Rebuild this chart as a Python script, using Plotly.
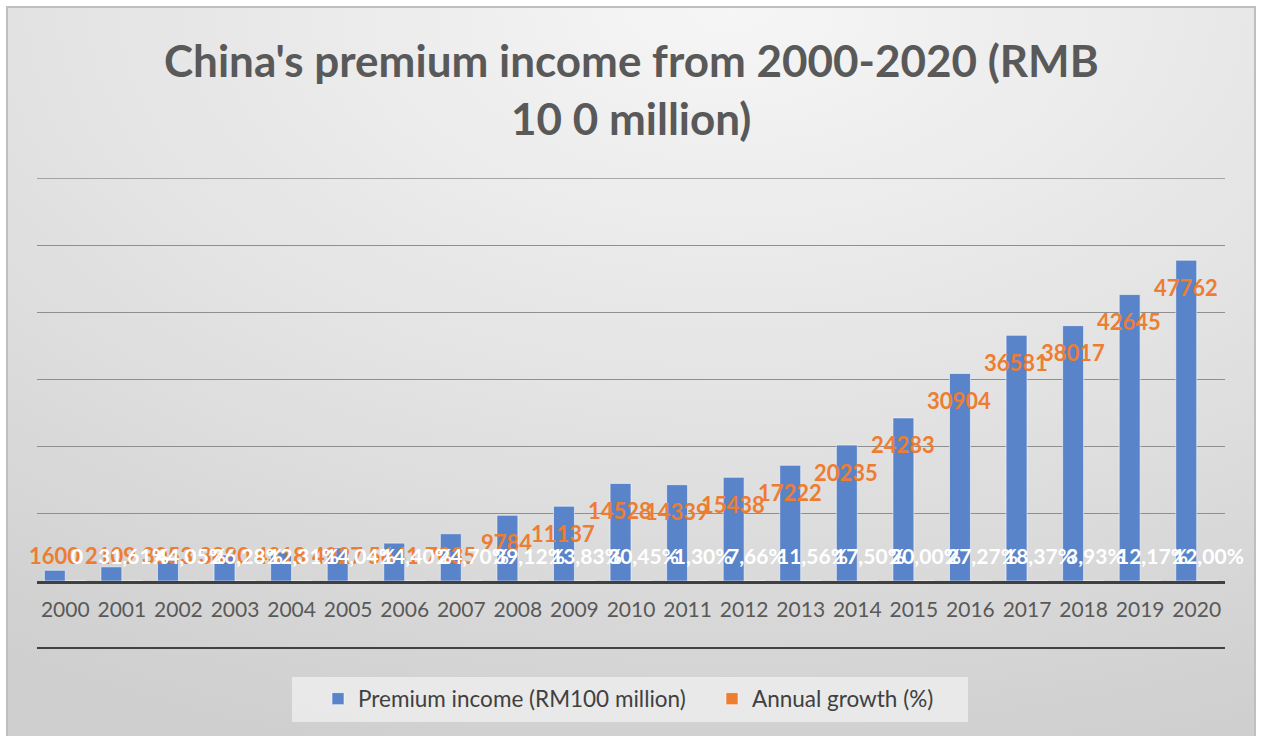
import base64
import plotly.graph_objects as go

# Premium income (RMB 100 million) and year-on-year growth (%)
years = [str(y) for y in range(2000, 2021)]
premium = [1600, 2109, 3053, 3880, 4318, 4927, 5641, 7035, 9784, 11137, 14528,
           14339, 15438, 17222, 20235, 24283, 30904, 36581, 38017, 42645, 47762]
growth = [0, 31.61, 44.05, 26.28, 12.31, 14.04, 14.40, 24.70, 39.12, 13.83, 30.45,
          -1.30, 7.66, 11.56, 17.50, 20.00, 27.27, 18.37, 3.93, 12.17, 12.00]
y_ticks = [0, 10000, 20000, 30000, 40000, 50000, 60000]

BLUE = "#5a84c9"
ORANGE = "#ED7D31"
FONT = "Lato"
GRID = "#8f8f8f"

# plot area in pixels
L, R, T, B = 37, 1225, 178, 581
W, H = 1262, 736
pw, ph = R - L, B - T


def px_x(x):
    return (x - L) / pw


def px_y(y):
    return (B - y) / ph


def growth_text(g):
    return "0" if g == 0 else f"{g:.2f}%".replace(".", ",")


fig = go.Figure()
fig.add_trace(go.Bar(
    x=years, y=premium, name="Premium income (RM100 million)", legend="legend",
    marker=dict(color=BLUE, line=dict(color="rgba(255,255,255,0.55)", width=1)),
))
fig.add_trace(go.Bar(
    x=years, y=[g / 100 for g in growth], name="Annual growth (%)", legend="legend2",
    marker=dict(color=ORANGE, line=dict(color="rgba(255,255,255,0.55)", width=1)),
))

annotations = []
# premium values: just inside the top of each bar, never below the label row
label_floor = 3870
for i, v in enumerate(premium):
    annotations.append(dict(
        x=i, y=max(v - 4020, label_floor), xref="x", yref="y", xshift=-11,
        text=str(v), showarrow=False, yanchor="middle",
        font=dict(family=FONT, size=22, color=ORANGE, weight="bold"),
    ))
# growth labels sit above the (near-zero) growth bars
for i, g in enumerate(growth):
    annotations.append(dict(
        x=i, y=label_floor, xref="x", yref="y", xshift=12,
        text=growth_text(g), showarrow=False, yanchor="middle",
        font=dict(family=FONT, size=21, color="white", weight="bold"),
    ))

# two-line title
for text, ypx in [("China's premium income from 2000-2020 (RMB", 60), ("10 0 million)", 118)]:
    annotations.append(dict(
        x=0.5, xref="paper", y=px_y(ypx), yref="paper", yanchor="middle",
        text=text, showarrow=False,
        font=dict(family=FONT, size=44, color="#595959", weight="bold"),
    ))

# soft radial background
svg = (
    "<svg xmlns='http://www.w3.org/2000/svg' width='1248' height='735' viewBox='0 0 1248 735' preserveAspectRatio='none'>"
    "<defs><radialGradient id='g' cx='0.58' cy='0.0' r='1.05' gradientUnits='objectBoundingBox'>"
    "<stop offset='0' stop-color='#f6f6f6'/><stop offset='0.55' stop-color='#e2e2e2'/>"
    "<stop offset='1' stop-color='#cfcfcf'/></radialGradient></defs>"
    "<rect x='0' y='0' width='1248' height='735' fill='url(#g)'/></svg>"
)
bg_src = "data:image/svg+xml;base64," + base64.b64encode(svg.encode()).decode()

shapes = [
    # chart frame
    dict(type="rect", xref="paper", yref="paper",
         x0=px_x(7), x1=px_x(1255), y0=px_y(745), y1=px_y(7),
         line=dict(color="#bfbfbf", width=2), fillcolor="rgba(0,0,0,0)", layer="above"),
    # top gridline (sits on the plot edge)
    dict(type="line", xref="paper", yref="y", x0=0, x1=1,
         y0=y_ticks[-1], y1=y_ticks[-1], line=dict(color=GRID, width=1.3), layer="below"),
    # line under category labels
    dict(type="line", xref="paper", yref="paper", x0=0, x1=1,
         y0=px_y(648), y1=px_y(648), line=dict(color="#111111", width=1.6)),
    # legend panel
    dict(type="rect", xref="paper", yref="paper",
         x0=px_x(292), x1=px_x(968), y0=px_y(722), y1=px_y(677),
         line=dict(width=0), fillcolor="rgba(240,240,240,0.75)", layer="below"),
]

legend_style = dict(orientation="h", xanchor="left", y=px_y(699), yanchor="middle",
                    bgcolor="rgba(0,0,0,0)",
                    font=dict(family=FONT, size=22.5, color="#404040"))

fig.update_layout(
    width=W, height=H,
    margin=dict(l=L, r=W - R, t=T, b=H - B, pad=0),
    paper_bgcolor="white", plot_bgcolor="rgba(0,0,0,0)",
    barmode="group", bargap=0.26, bargroupgap=0,
    showlegend=True,
    legend=dict(x=px_x(318), **legend_style),
    legend2=dict(x=px_x(712), **legend_style),
    annotations=annotations,
    shapes=shapes,
    images=[dict(source=bg_src, xref="paper", yref="paper",
                 x=px_x(7), y=px_y(7), sizex=1248 / pw, sizey=735 / ph,
                 xanchor="left", yanchor="top", sizing="stretch", layer="below")],
    font=dict(family=FONT),
)
fig.update_xaxes(
    type="category", categoryorder="array", categoryarray=years,
    range=[-0.5, len(years) - 0.5], autorange=False,
    showline=True, linecolor="#404040", linewidth=3,
    ticks="", tickfont=dict(family=FONT, size=21, color="#595959"),
    ticklabelstandoff=8,
    showgrid=False, zeroline=False,
)
fig.update_yaxes(
    range=[0, 60000], autorange=False, tickvals=y_ticks, showticklabels=False,
    showgrid=True, gridcolor=GRID, gridwidth=1.3, zeroline=False, showline=False,
)

fig.write_html("out.html")
